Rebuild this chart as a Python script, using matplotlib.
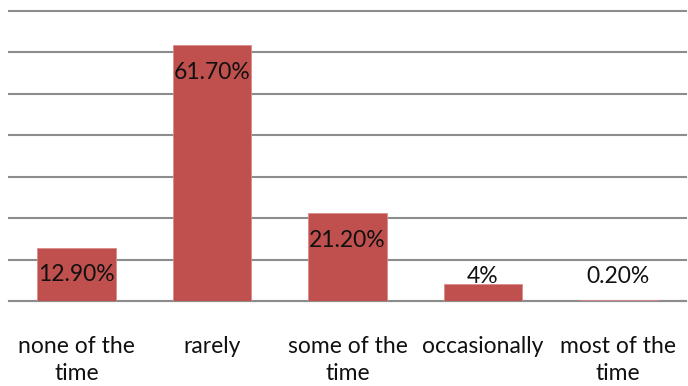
import matplotlib.pyplot as plt

categories = ['none of the\ntime', 'rarely', 'some of the\ntime', 'occasionally', 'most of the\ntime']
values = [12.9, 61.7, 21.2, 4, 0.2]
labels = ['12.90%', '61.70%', '21.20%', '4%', '0.20%']

plt.rcParams['font.family'] = ['Lato', 'DejaVu Sans']

fig = plt.figure(figsize=(6.88, 3.86), dpi=100)
ax = fig.add_axes([9 / 688, 85 / 386, 677 / 688, 290 / 386])

x = range(len(values))
ax.bar(x, values, width=0.58, color='#C0504D', edgecolor='#D98C8A', linewidth=0.6, zorder=3)

for i, (v, lab) in enumerate(zip(values, labels)):
    ypos = max(v - 6.5, 6.0)
    ax.text(i, ypos, lab, ha='center', va='center', fontsize=16.5, color='#111111', zorder=4)

ax.set_xlim(-0.5, len(values) - 0.5)
ax.set_ylim(0, 70)
ax.set_yticks(range(0, 71, 10))
ax.yaxis.grid(True, color='#8c8c8c', linewidth=1.5, zorder=0)
for gl in ax.get_ygridlines():
    gl.set_clip_on(False)
ax.tick_params(axis='y', left=False, labelleft=False)
ax.tick_params(axis='x', bottom=False, pad=22)
ax.set_xticks(list(x))
ax.set_xticklabels(categories, fontsize=16.5, color='#111111', linespacing=1.3)
for s in ['top', 'right', 'left']:
    ax.spines[s].set_visible(False)
ax.spines['bottom'].set_color('#8c8c8c')
ax.spines['bottom'].set_linewidth(1.5)

fig.savefig('out.png', dpi=100)
